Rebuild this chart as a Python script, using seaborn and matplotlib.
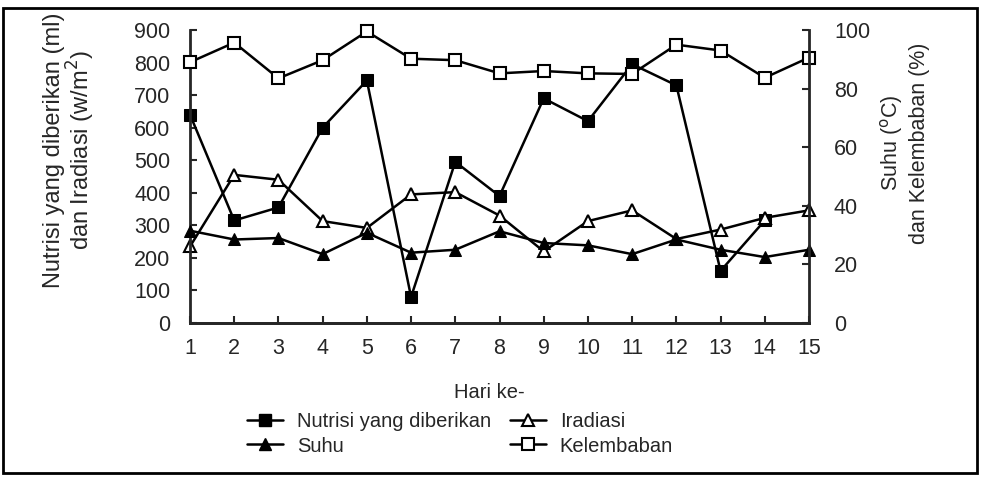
import numpy as np
import pandas as pd
import matplotlib
matplotlib.use("Agg")
import matplotlib.pyplot as plt
from matplotlib.lines import Line2D
from matplotlib.patches import Rectangle
import seaborn as sns

# data
hari = list(range(1, 16))
nutrisi = [640, 315, 355, 600, 745, 80, 495, 390, 690, 620, 795, 730, 160, 315, np.nan]
iradiasi = [235, 455, 440, 313, 292, 395, 402, 330, 220, 313, 346, 258, 287, 323, 346]
suhu = [31.5, 28.5, 29, 23.5, 30.8, 24, 25, 31.3, 27.3, 26.5, 23.5, 28.5, 25, 22.5, 25]
kelembaban = [89, 95.7, 83.5, 89.7, 99.5, 90.2, 89.7, 85.2, 86, 85.2, 85, 95, 93, 83.7, 90.6]

df = pd.DataFrame({"Hari": hari, "Nutrisi": nutrisi, "Iradiasi": iradiasi,
                   "Suhu": suhu, "Kelembaban": kelembaban})

sns.set_style("ticks")
plt.rcParams["font.family"] = ["Liberation Sans", "DejaVu Sans"]
fs = 14.5

fig = plt.figure(figsize=(9.81, 4.79), dpi=100)
ax = fig.add_axes([190 / 981, 1 - 323 / 479, 619 / 981, 293 / 479])
ax2 = ax.twinx()

lw = 1.8
styles = {
    "Nutrisi": dict(marker="s", ms=8, mfc="black", mec="black"),
    "Iradiasi": dict(marker="^", ms=9, mfc="white", mec="black", mew=1.5),
    "Suhu": dict(marker="^", ms=9, mfc="black", mec="black"),
    "Kelembaban": dict(marker="s", ms=8, mfc="white", mec="black", mew=1.5),
}

sns.lineplot(data=df, x="Hari", y="Nutrisi", ax=ax, color="black", lw=lw, clip_on=False, **styles["Nutrisi"])
sns.lineplot(data=df, x="Hari", y="Iradiasi", ax=ax, color="black", lw=lw, clip_on=False, **styles["Iradiasi"])
sns.lineplot(data=df, x="Hari", y="Suhu", ax=ax2, color="black", lw=lw, clip_on=False, **styles["Suhu"])
sns.lineplot(data=df, x="Hari", y="Kelembaban", ax=ax2, color="black", lw=lw, clip_on=False, **styles["Kelembaban"])

ax.set_xlim(1, 15)
ax.set_ylim(0, 900)
ax2.set_ylim(0, 100)
ax.set_xticks(hari)
ax.set_yticks(range(0, 901, 100))
ax2.set_yticks(range(0, 101, 20))
ax.set_xlabel("")
ax.set_ylabel("")
ax2.set_ylabel("")

for a in (ax, ax2):
    a.spines["top"].set_visible(False)
    for s in a.spines.values():
        s.set_linewidth(2)
    a.tick_params(direction="in", length=5, width=1.5, labelsize=15.5)
ax.spines["right"].set_visible(False)
ax2.spines["left"].set_visible(False)
ax.tick_params(axis="x", pad=11)
ax.tick_params(axis="y", pad=14)
ax2.tick_params(axis="y", pad=18)

fig.text(70 / 981, 1 - 150 / 479, "Nutrisi yang diberikan (ml)\ndan Iradiasi (w/m$^2$)",
         rotation=90, ha="center", va="center", fontsize=17, linespacing=1.0)
fig.text(904 / 981, 1 - 143 / 479, "Suhu ($^{\\mathrm{o}}$C)\ndan Kelembaban (%)",
         rotation=90, ha="center", va="center", fontsize=15.5, linespacing=1.3)
fig.text(489 / 981, 1 - 392 / 479, "Hari ke-", ha="center", va="center", fontsize=fs)

handles = [
    Line2D([], [], color="black", lw=lw, **styles["Nutrisi"]),
    Line2D([], [], color="black", lw=lw, **styles["Suhu"]),
    Line2D([], [], color="black", lw=lw, **styles["Iradiasi"]),
    Line2D([], [], color="black", lw=lw, **styles["Kelembaban"]),
]
labels = ["Nutrisi yang diberikan", "Suhu", "Iradiasi", "Kelembaban"]
fig.legend(handles, labels, ncol=2, loc="center", bbox_to_anchor=(460 / 981, 1 - 434 / 479),
           frameon=False, fontsize=fs, handlelength=1.8, handletextpad=0.7,
           columnspacing=0.9, labelspacing=0.25)

fig.patches.append(Rectangle((3 / 981, 1 - 473 / 479), 974 / 981, 465 / 479,
                             transform=fig.transFigure, fill=False, lw=2, ec="black"))

fig.savefig("out.png", dpi=100)
